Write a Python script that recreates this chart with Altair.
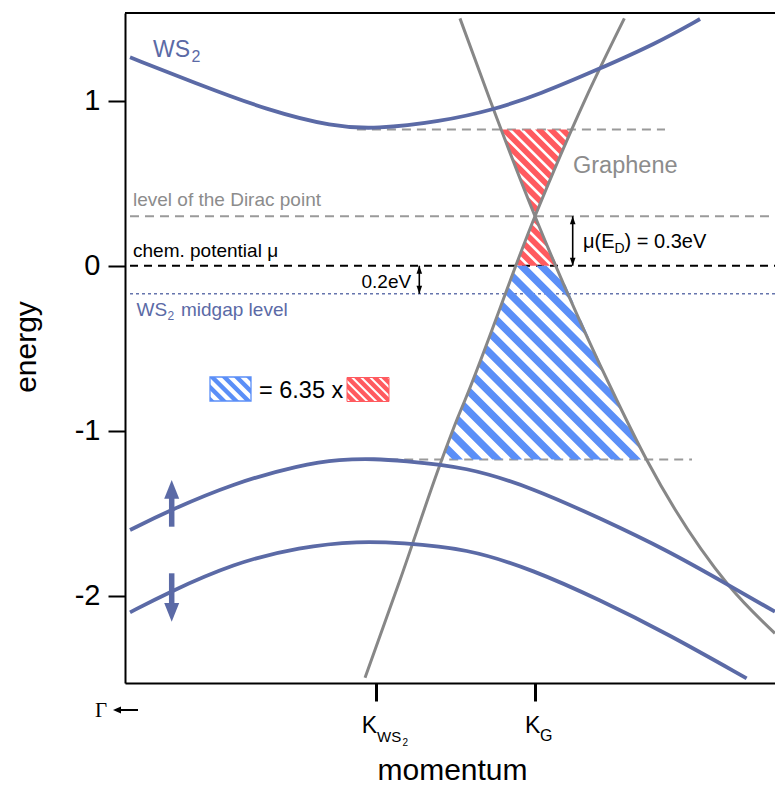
import math
import numpy as np
import pandas as pd
import altair as alt

# ------------------------------------------------------------------ data
# momentum in units of the K_WS2 -> K_G distance (K_WS2 = 0, K_G = 1); energy in eV
cb_k = [-1.547, -1.107, -0.687, -0.270, 0.0, 0.403, 0.738, 1.031, 1.388, 1.765, 2.038]
cb_E = [1.263, 1.096, 0.944, 0.842, 0.828, 0.873, 0.944, 1.040, 1.186, 1.348, 1.495]

vb_up_k = [-1.547, -1.316, -0.897, -0.478, -0.226, 0.0, 0.151, 0.570, 0.990, 1.409, 1.828, 2.216, 2.509]
vb_up_E = [-1.602, -1.491, -1.319, -1.208, -1.173, -1.171, -1.181, -1.218, -1.349, -1.531, -1.723, -1.935, -2.097]

vb_dn_k = [-1.547, -1.316, -0.897, -0.478, -0.101, 0.151, 0.570, 0.990, 1.409, 1.828, 2.331]
vb_dn_E = [-2.101, -1.985, -1.804, -1.703, -1.669, -1.679, -1.713, -1.844, -2.026, -2.228, -2.501]

# graphene Dirac cone branches (sorted by energy)
gr_slash_k = [-0.069, 0.151, 0.413, 0.508, 0.560, 1.0, 1.314, 1.562]
gr_slash_E = [-2.498, -1.905, -1.178, -0.935, -0.814, 0.30, 1.004, 1.499]
gr_back_k = [2.509, 2.216, 1.703, 1.514, 1.0, 0.717, 0.528]
gr_back_E = [-2.228, -1.935, -1.178, -0.814, 0.30, 1.004, 1.499]

# energy levels
E_cb_level = 0.825
E_dirac = 0.30
E_mu = 0.0
E_midgap = -0.17
E_vb_level = -1.175

y_ticks = [-2, -1, 0, 1]
x_ticks = [0, 1]
ratio_text = "= 6.35 x"

# ------------------------------------------------------------------ geometry of the plot area
W, H = 650, 670
SX, SY = 159.0, 165.0
KMIN = -251 / SX
KMAX = KMIN + W / SX
EMAX = 252.7 / SY
EMIN = EMAX - H / SY

BAND = "#5b6aa6"
GRAPH = "#878787"
DASHG = "#9a9a9a"
RED = "#ff5a5f"
BLUEH = "#5b8ff7"
TXTG = "#8c8c8c"
SANS = "Liberation Sans"
SERIF = "Liberation Serif"

xs = alt.Scale(domain=[KMIN, KMAX], nice=False, zero=False)
ys = alt.Scale(domain=[EMIN, EMAX], nice=False, zero=False)
xaxis = alt.Axis(values=x_ticks, title=None, grid=False, labels=False, domainColor="black",
                 domainWidth=2, tickColor="black", tickWidth=3, tickSize=18)
yaxis = alt.Axis(values=y_ticks, title=None, grid=False, domainColor="black", domainWidth=2,
                 tickColor="black", tickWidth=2, tickSize=17, labelFontSize=29, labelFont=SANS,
                 labelColor="black", labelPadding=8,
                 labelExpr="datum.value < 0 ? '-' + abs(datum.value) : '' + datum.value")


def X(f):
    return alt.X(f, type="quantitative", scale=xs, axis=xaxis)


def Y(f):
    return alt.Y(f, type="quantitative", scale=ys, axis=yaxis)


def kx(px):  # page pixel -> momentum
    return (px - 125) / SX + KMIN


def ey(py):  # page pixel -> energy
    return EMAX - (py - 13) / SY


# ------------------------------------------------------------------ hatching
def hatch(y_top, y_bot, bounds, period, frac, tag, phase=0.0):
    Ys = np.arange(y_top, y_bot, 0.5)
    Ys = np.append(Ys, y_bot)
    L, R = bounds(Ys)
    hp = period * math.sqrt(2)
    hw = hp * frac
    cmin = (L - Ys).min() - hw
    cmax = (R - Ys).max()
    j0 = math.floor((cmin - phase) / hp)
    j1 = math.ceil((cmax - phase) / hp)
    recs = []
    for j in range(j0, j1 + 1):
        c = phase + j * hp
        a = np.maximum(L, c + Ys)
        b = np.minimum(R, c + Ys + hw)
        m = b > a
        if m.sum() < 2:
            continue
        for yy, aa, bb in zip(Ys[m], a[m], b[m]):
            recs.append({"g": f"{tag}{j}", "E": EMAX - yy / SY,
                         "k1": KMIN + aa / SX, "k2": KMIN + bb / SX})
    return pd.DataFrame(recs)


def cone_bounds(Ys):
    E = EMAX - Ys / SY
    a = np.interp(E, gr_slash_E, gr_slash_k)
    b = np.interp(E, gr_back_E, gr_back_k)
    return (np.minimum(a, b) - KMIN) * SX, (np.maximum(a, b) - KMIN) * SX


def box_bounds(x0, x1):
    def f(Ys):
        return np.full_like(Ys, x0 - 125.0), np.full_like(Ys, x1 - 125.0)
    return f


def ypx(E):
    return (EMAX - E) * SY


red_df = pd.concat([
    hatch(ypx(E_cb_level), ypx(E_dirac), cone_bounds, 8.3, 0.68, "ru"),
    hatch(ypx(E_dirac), ypx(E_mu), cone_bounds, 8.3, 0.68, "rl"),
    hatch(377.5 - 13, 401.5 - 13, box_bounds(347, 389), 6.4, 0.68, "rb"),
])
blue_df = pd.concat([
    hatch(ypx(E_mu), ypx(E_vb_level), cone_bounds, 14.0, 0.52, "bu"),
    hatch(377 - 13, 401 - 13, box_bounds(210, 251), 8.7, 0.5, "bb", phase=3.0),
])


def stripes(df, color):
    return alt.Chart(df).mark_area(orient="horizontal", color=color, strokeWidth=0).encode(
        y=Y("E"), x=X("k1"), x2=alt.X2("k2"), detail="g:N")


# ------------------------------------------------------------------ lines
bands = pd.concat([
    pd.DataFrame({"k": cb_k, "E": cb_E, "b": "cb"}),
    pd.DataFrame({"k": vb_up_k, "E": vb_up_E, "b": "vb_up"}),
    pd.DataFrame({"k": vb_dn_k, "E": vb_dn_E, "b": "vb_dn"}),
])
graphene = pd.concat([
    pd.DataFrame({"k": gr_slash_k, "E": gr_slash_E, "b": "slash"}),
    pd.DataFrame({"k": gr_back_k, "E": gr_back_E, "b": "back"}),
])

band_layer = alt.Chart(bands).mark_line(interpolate="basis", strokeWidth=3.8, color=BAND,
                                        clip=True).encode(x=X("k"), y=Y("E"), detail="b:N")
graph_layer = alt.Chart(graphene).mark_line(interpolate="monotone", strokeWidth=3, color=GRAPH,
                                            clip=True).encode(x=X("k"), y=Y("E"), detail="b:N")

x_left = kx(130)
gray_levels = pd.DataFrame({"E": [E_cb_level, E_dirac, E_vb_level],
                            "k1": [-0.12, x_left, -0.2],
                            "k2": [kx(665), KMAX, kx(692)]})
gray_lvl_layer = alt.Chart(gray_levels).mark_rule(strokeDash=[9, 6], strokeWidth=2, color=DASHG).encode(
    y=Y("E"), x=X("k1"), x2=alt.X2("k2"))
mu_layer = alt.Chart(pd.DataFrame({"E": [E_mu], "k1": [x_left], "k2": [KMAX]})).mark_rule(
    strokeDash=[8, 6], strokeWidth=2, color="black").encode(y=Y("E"), x=X("k1"), x2=alt.X2("k2"))
mid_layer = alt.Chart(pd.DataFrame({"E": [E_midgap], "k1": [x_left], "k2": [KMAX]})).mark_rule(
    strokeDash=[3, 3], strokeWidth=1.6, color="#6675ad").encode(y=Y("E"), x=X("k1"), x2=alt.X2("k2"))

# ------------------------------------------------------------------ annotations
dummy = pd.DataFrame({"a": [0]})


def T(text, x, y, size, color="black", align="left", baseline="alphabetic", font=SANS, angle=None):
    kw = dict(text=text, fontSize=size, color=color, align=align, baseline=baseline, font=font)
    if angle is not None:
        kw["angle"] = angle
    return alt.Chart(dummy).mark_text(**kw).encode(x=alt.value(x - 125), y=alt.value(y - 13))


UP = "M0,0 L0.7,2 L-0.7,2 Z"
DOWN = "M0,0 L0.7,-2 L-0.7,-2 Z"
LEFT = "M0,0 L2,0.85 L2,-0.85 Z"
BIG_UP = "M0,0 L1,2.5 L-1,2.5 Z"
BIG_DOWN = "M0,0 L1,-2.5 L-1,-2.5 Z"


def head_px(x, y, shape, size, color):
    return alt.Chart(dummy).mark_point(shape=shape, size=size, filled=True, color=color, opacity=1,
                                       strokeWidth=0).encode(x=alt.value(x - 125), y=alt.value(y - 13))


def rule_px(x1, y1, x2, y2, w, color):
    return alt.Chart(dummy).mark_rule(strokeWidth=w, color=color).encode(
        x=alt.value(x1 - 125), y=alt.value(y1 - 13), x2=alt.value(x2 - 125), y2=alt.value(y2 - 13))


def double_arrow(k, e_lo, e_hi):
    d = pd.DataFrame({"k": [k], "lo": [e_lo], "hi": [e_hi]})
    shaft = alt.Chart(d).mark_rule(strokeWidth=1.6, color="black").encode(x=X("k"), y=Y("lo"), y2=alt.Y2("hi"))
    top = alt.Chart(d).mark_point(shape=UP, size=64, filled=True, color="black", opacity=1,
                                  strokeWidth=0).encode(x=X("k"), y=Y("hi"))
    bot = alt.Chart(d).mark_point(shape=DOWN, size=64, filled=True, color="black", opacity=1,
                                  strokeWidth=0).encode(x=X("k"), y=Y("lo"))
    return [shaft, top, bot]


box_outlines = [
    alt.Chart(dummy).mark_rect(filled=False, stroke=BLUEH, strokeWidth=1.3).encode(
        x=alt.value(210 - 125), x2=alt.value(251 - 125), y=alt.value(377 - 13), y2=alt.value(401 - 13)),
    alt.Chart(dummy).mark_rect(filled=False, stroke=RED, strokeWidth=1.0).encode(
        x=alt.value(347 - 125), x2=alt.value(389 - 125), y=alt.value(377.5 - 13), y2=alt.value(401.5 - 13)),
]

top_border = rule_px(125, 13, 775, 13, 2, "black")

texts = [
    T("WS", 153, 56.7, 23, BAND), T("2", 191.5, 62, 16, BAND),
    T("Graphene", 573, 173, 23.5, TXTG),
    T("level of the Dirac point", 133, 206, 19, TXTG),
    T("chem. potential \u03bc", 133, 256.5, 19),
    T("0.2eV", 361.5, 288.3, 19),
    T("WS", 136.5, 315.5, 19, BAND), T("2", 167.5, 320, 12, BAND), T("midgap level", 181, 315.5, 19, BAND),
    T("\u03bc(E", 583, 248.3, 20), T("D", 614.5, 253, 14), T(") = 0.3eV", 624.6, 248.3, 20),
    T(ratio_text, 259, 398.3, 23.5),
    T("K", 361.7, 733.3, 23), T("WS", 377, 742, 15), T("2", 402.5, 745.5, 10),
    T("K", 525, 733.3, 23), T("G", 540, 741, 16),
    T("momentum", 452.5, 780, 30, align="center"),
    T("energy", 27, 347, 30, align="center", baseline="middle", angle=270),
    T("\u0393", 95, 716.7, 21, font=SERIF),
]

arrows = [
    rule_px(118, 710, 138, 710, 2, "black"), head_px(113, 710, LEFT, 64, "black"),
    rule_px(171.7, 526.7, 171.7, 496, 5.5, BAND), head_px(171.7, 480, BIG_UP, 225, BAND),
    rule_px(171.7, 573.3, 171.7, 603, 5.5, BAND), head_px(171.7, 621.7, BIG_DOWN, 225, BAND),
]
arrows += double_arrow(kx(572.7), E_mu, E_dirac)
arrows += double_arrow(kx(419.3), E_midgap, E_mu)

layers = ([gray_lvl_layer, mu_layer, mid_layer, stripes(red_df, RED), stripes(blue_df, BLUEH)]
          + box_outlines + [graph_layer, band_layer, top_border] + arrows + texts)

chart = alt.layer(*layers).properties(
    width=W, height=H, autosize="none",
    padding={"left": 125, "top": 13, "right": 0, "bottom": 102},
).configure_view(stroke=None).configure(background="white")

chart.save("out.html", embed_options={"renderer": "svg", "actions": False})
